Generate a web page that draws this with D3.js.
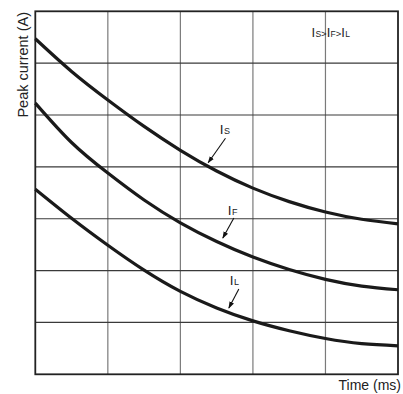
<!DOCTYPE html>
<html><head><meta charset="utf-8">
<script src="https://cdn.jsdelivr.net/npm/d3@7"></script>
<style>
html,body{margin:0;padding:0;background:#fff;}
svg{display:block;font-family:"Liberation Sans",Arial,Helvetica,sans-serif;}
</style></head>
<body><svg id="c" width="403" height="394"></svg>
<script>
// ---- data (grid units: time 0..5 divisions, current 0..7 divisions) ----
const timeTicks = [0, 1, 2, 3, 4, 5];
const currentTicks = [0, 1, 2, 3, 4, 5, 6, 7];
const timeValues = [0, 0.5, 1, 1.5, 2, 2.5, 3, 3.5, 4, 4.5, 5];
const peakIs = [6.47, 5.84, 5.29, 4.78, 4.32, 3.92, 3.59, 3.33, 3.13, 2.99, 2.90];
const peakIF = [5.23, 4.47, 3.88, 3.36, 2.92, 2.56, 2.26, 2.02, 1.83, 1.70, 1.63];
const peakIL = [3.57, 3.01, 2.49, 2.01, 1.60, 1.28, 1.03, 0.84, 0.69, 0.59, 0.55];
const seriesNames = ["S", "F", "L"];
// annotation: label position and arrow (from -> to), in data units
const labelPos = [[2.544, 4.634], [2.654, 3.081], [2.682, 1.722]];
const arrowFrom = [[2.622, 4.551], [2.737, 3.014], [2.806, 1.645]];
const arrowTo = [[2.383, 4.080], [2.585, 2.628], [2.668, 1.278]];
const xTitle = "Time (ms)";
const yTitle = "Peak current (A)";

const svg = d3.select("#c");
const L = 35.3, R = 398, T = 11.3, B = 374.3;
const x = d3.scaleLinear().domain([0, 5]).range([L, R]);
const y = d3.scaleLinear().domain([0, 7]).range([B, T]);

// grid
svg.append("g").selectAll("line").data(timeTicks.slice(1, -1)).join("line")
  .attr("x1", d => x(d)).attr("x2", d => x(d)).attr("y1", T).attr("y2", B)
  .attr("stroke", "#7a7a7a").attr("stroke-width", 1.2);
svg.append("g").selectAll("line").data(currentTicks.slice(1, -1)).join("line")
  .attr("x1", L).attr("x2", R).attr("y1", d => y(d)).attr("y2", d => y(d))
  .attr("stroke", "#3a3a3a").attr("stroke-width", 1.2);
// frame
svg.append("rect").attr("x", L).attr("y", T).attr("width", R - L).attr("height", B - T)
  .attr("fill", "none").attr("stroke", "#222").attr("stroke-width", 1.8);

// curves
const line = d3.line().x(d => x(d[0])).y(d => y(d[1])).curve(d3.curveNatural);
[peakIs, peakIF, peakIL].forEach(s => {
  svg.append("path").datum(timeValues.map((t, i) => [t, s[i]]))
    .attr("d", line).attr("fill", "none").attr("stroke", "#1a1a1a").attr("stroke-width", 3.2);
});

// arrow marker
svg.append("defs").append("marker").attr("id", "ah")
  .attr("viewBox", "0 0 10 10").attr("refX", 9).attr("refY", 5)
  .attr("markerWidth", 7).attr("markerHeight", 7).attr("markerUnits", "userSpaceOnUse")
  .attr("orient", "auto")
  .append("path").attr("d", "M0,1.5 L10,5 L0,8.5 Z").attr("fill", "#111");

seriesNames.forEach((n, i) => {
  const t = svg.append("text").attr("x", x(labelPos[i][0])).attr("y", y(labelPos[i][1]))
    .attr("fill", "#222");
  t.append("tspan").attr("font-size", 13.5).text("I");
  t.append("tspan").attr("font-size", 9).attr("dx", 0.5).text(n);
  svg.append("line")
    .attr("x1", x(arrowFrom[i][0])).attr("y1", y(arrowFrom[i][1]))
    .attr("x2", x(arrowTo[i][0])).attr("y2", y(arrowTo[i][1]))
    .attr("stroke", "#111").attr("stroke-width", 1.1).attr("marker-end", "url(#ah)");
});

// top-right inequality note
const note = svg.append("text").attr("x", 311.5).attr("y", 37).attr("fill", "#222");
seriesNames.forEach((n, i) => {
  note.append("tspan").attr("font-size", 13).text("I");
  note.append("tspan").attr("font-size", 8.5).attr("dx", 0.3).text(n);
  if (i < seriesNames.length - 1) note.append("tspan").attr("font-size", 9.5).text(">");
});

// axis titles
svg.append("text").attr("x", 401).attr("y", 390).attr("text-anchor", "end")
  .attr("font-size", 14).attr("fill", "#222").text(xTitle);
svg.append("text").attr("transform", "translate(28,12) rotate(-90)").attr("text-anchor", "end")
  .attr("font-size", 14.5).attr("fill", "#222").text(yTitle);
</script></body></html>
